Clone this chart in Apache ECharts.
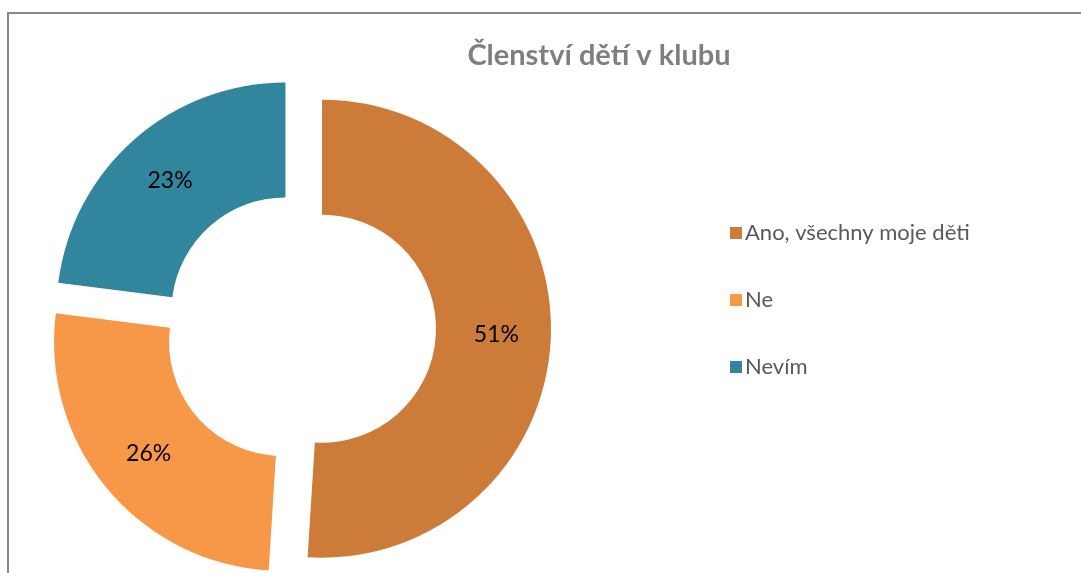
<!DOCTYPE html>
<html>
<head>
<meta charset="utf-8">
<script src="https://cdn.jsdelivr.net/npm/echarts@6/dist/echarts.min.js"></script>
<style>
  html, body { margin: 0; padding: 0; background: #fff; }
  #chart { width: 1081px; height: 573px; }
</style>
</head>
<body>
<div id="chart"></div>
<script>
// data
const CATEGORIES = ['Ano, všechny moje děti', 'Ne', 'Nevím'];
const VALUES = [51, 26, 23];
const COLORS = ['#CC7B38', '#F79848', '#31859C'];

const chart = echarts.init(document.getElementById('chart'));

const option = {
  backgroundColor: '#fff',
  animation: false,
  title: {
    text: 'Členství dětí v klubu',
    left: 594,
    top: 36,
    textAlign: 'center',
    textStyle: {
      fontFamily: 'Lato',
      fontSize: 29,
      fontWeight: 'bold',
      color: '#7f7f7f'
    }
  },
  legend: {
    orient: 'vertical',
    left: 725,
    top: 217,
    itemWidth: 12,
    itemHeight: 12,
    itemGap: 45,
    icon: 'rect',
    selectedMode: false,
    textStyle: {
      fontFamily: 'Lato',
      fontSize: 22,
      color: '#595959',
      padding: [0, 0, 0, -2]
    },
    data: CATEGORIES
  },
  graphic: [{
    type: 'rect',
    shape: { x: 8, y: 13, width: 1200, height: 700 },
    style: { fill: 'none', stroke: '#888', lineWidth: 2 },
    silent: true
  }],
  series: [{
    type: 'pie',
    center: [300, 328],
    radius: [114, 229],
    startAngle: 90,
    clockwise: true,
    selectedMode: 'multiple',
    selectedOffset: 22,
    avoidLabelOverlap: false,
    label: {
      show: true,
      position: 'inside',
      formatter: '{c}%',
      fontFamily: 'Lato',
      fontSize: 23,
      color: '#000'
    },
    labelLine: { show: false },
    emphasis: { disabled: true },
    data: CATEGORIES.map((name, i) => ({
      name: name,
      value: VALUES[i],
      selected: true,
      itemStyle: { color: COLORS[i] }
    }))
  }]
};

chart.setOption(option);
</script>
</body>
</html>
